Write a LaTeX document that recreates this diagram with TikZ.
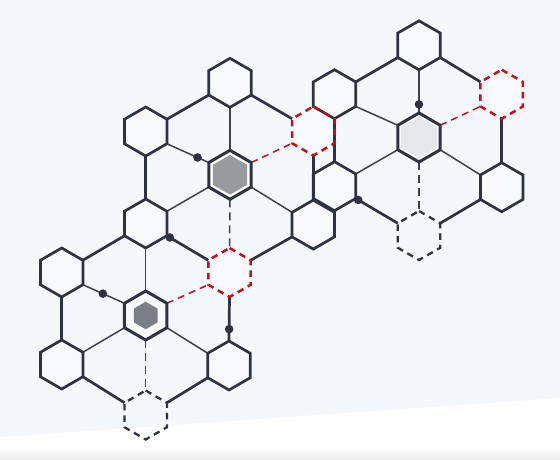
\documentclass[tikz,border=0pt]{standalone}
\usetikzlibrary{calc}
\definecolor{bgc}{HTML}{F4F7FB}
\definecolor{hexfill}{HTML}{F7F9FC}
\definecolor{dk}{HTML}{2D3340}
\definecolor{spk}{HTML}{3A404C}
\definecolor{rd}{HTML}{C0101A}
\definecolor{fone}{HTML}{979AA0}
\definecolor{ftwo}{HTML}{7A7F87}
\definecolor{fthree}{HTML}{E6E7EA}
\def\hR{24.5}\def\hW{21.22}\def\hH{12.25}
\newcommand\defhex[3]{%
  \coordinate (#1) at (#2,#3);
  \coordinate (#1-t) at ($(#1)+(0,-\hR)$);
  \coordinate (#1-ur) at ($(#1)+(\hW,-\hH)$);
  \coordinate (#1-lr) at ($(#1)+(\hW,\hH)$);
  \coordinate (#1-b) at ($(#1)+(0,\hR)$);
  \coordinate (#1-ll) at ($(#1)+(-\hW,\hH)$);
  \coordinate (#1-ul) at ($(#1)+(-\hW,-\hH)$);
}
\newcommand\hexshape[2]{\path[#2] (#1-t) -- (#1-ur) -- (#1-lr) -- (#1-b) -- (#1-ll) -- (#1-ul) -- cycle;}
\newcommand\innerhex[3]{\fill[#3] ($(#1)!#2!(#1-t)$) -- ($(#1)!#2!(#1-ur)$) -- ($(#1)!#2!(#1-lr)$) -- ($(#1)!#2!(#1-b)$) -- ($(#1)!#2!(#1-ll)$) -- ($(#1)!#2!(#1-ul)$) -- cycle;}
\tikzset{
  ring/.style={draw=dk,line width=2.7pt},
  spoke/.style={draw=spk,line width=1.5pt},
  dspoke/.style={draw=spk,line width=1.5pt,dash pattern=on 8pt off 5pt},
  rspoke/.style={draw=rd,line width=1.5pt,dash pattern=on 7pt off 5pt},
  hexsolid/.style={draw=dk,line width=2.7pt},
  hexred/.style={draw=rd,line width=2.5pt,dash pattern=on 6.5pt off 5pt},
  hexdash/.style={draw=dk,line width=2.3pt,dash pattern=on 6.5pt off 5pt},
  hexcenter/.style={draw=dk,line width=3pt,fill=white},
  dotn/.style={circle,fill=dk,inner sep=0pt,minimum size=8.6pt},
}
\begin{document}
\begin{tikzpicture}[x=1pt,y=-1pt]
\useasboundingbox (0,0) rectangle (560,459);
\fill[bgc] (0,0) rectangle (560,459);
\fill[white] (0,437) -- (560,398) -- (560,459) -- (0,459) -- cycle;
\shade[top color=white,bottom color=black!7] (0,447) rectangle (560,459);
% cluster 1
\defhex{c1c}{230}{174.8}
\defhex{c1t}{230}{82.8}
\defhex{c1ul}{145.7}{131.5}
\defhex{c1ur}{313.3}{131}
\defhex{c1ll}{145.7}{223.5}
\defhex{c1lr}{313.3}{224.6}
\defhex{c1b}{229.5}{272.5}
% cluster 2
\defhex{c2c}{145.7}{315.5}
\defhex{c2ul}{61.7}{272.5}
\defhex{c2ll}{61.7}{364.5}
\defhex{c2lr}{229}{365.5}
\defhex{c2b}{145.7}{415}
% cluster 3
\defhex{c3c}{419}{137.5}
\defhex{c3t}{419}{45.3}
\defhex{c3ul}{334.5}{94.2}
\defhex{c3ur}{501.7}{94.2}
\defhex{c3ll}{334.5}{186.2}
\defhex{c3lr}{501.7}{187.2}
\defhex{c3b}{419}{235.5}
% fills
\foreach \h in {c1t,c1ul,c1ll,c1lr,c2ul,c2ll,c2lr,c3t,c3ul,c3ll,c3lr,c1ur,c1b,c3ur}{\hexshape{\h}{fill=hexfill}}
% ring connectors
\draw[ring] (c1t-ll) -- (c1ul-ur);
\draw[ring] (c1t-lr) -- (c1ur-ul);
\draw[ring] (c1ul-b) -- (c1ll-t);
\draw[ring] (c1ur-b) -- (c1lr-t);
\draw[ring] (c1ll-lr) -- (c1b-ul);
\draw[ring] (c1lr-ll) -- (c1b-ur);
\draw[ring] (c1ll-ll) -- (c2ul-ur);
\draw[ring] (c2ul-b) -- (c2ll-t);
\draw[ring] (c1b-b) -- (c2lr-t);
\draw[ring] (c2ll-lr) -- (c2b-ul);
\draw[ring] (c2lr-ll) -- (c2b-ur);
\draw[ring] (c3t-ll) -- (c3ul-ur);
\draw[ring] (c3t-lr) -- (c3ur-ul);
\draw[ring] (c3ul-b) -- (c3ll-t);
\draw[ring] (c3ur-b) -- (c3lr-t);
\draw[ring] (c3ll-lr) -- (c3b-ul);
\draw[ring] (c3lr-ll) -- (c3b-ur);
% spokes cluster 1
\draw[spoke] (c1t-b) -- (c1c-t);
\draw[spoke] (c1ul-lr) -- (c1c-ul);
\draw[spoke] (c1ll-ur) -- (c1c-ll);
\draw[rspoke] (c1c-ur) -- (c1ur-ll);
\draw[spoke] (c1c-lr) -- (c1lr-ul);
\draw[dspoke] (c1c-b) -- (c1b-t);
% spokes cluster 2
\draw[spoke] (c1ll-b) -- (c2c-t);
\draw[spoke] (c2ul-lr) -- (c2c-ul);
\draw[spoke] (c2ll-ur) -- (c2c-ll);
\draw[rspoke] (c2c-ur) -- (c1b-ll);
\draw[spoke] (c2c-lr) -- (c2lr-ul);
\draw[dspoke] (c2c-b) -- (c2b-t);
% spokes cluster 3
\draw[spoke] (c3t-b) -- (c3c-t);
\draw[spoke] (c3ul-lr) -- (c3c-ul);
\draw[spoke] (c3ll-ur) -- (c3c-ll);
\draw[rspoke] (c3c-ur) -- (c3ur-ll);
\draw[spoke] (c3c-lr) -- (c3lr-ul);
\draw[dspoke] (c3c-b) -- (c3b-t);
% hex outlines
\foreach \h in {c1t,c1ul,c1ll,c1lr,c2ul,c2ll,c2lr,c3t,c3ul,c3ll,c3lr}{\hexshape{\h}{hexsolid}}
\foreach \h in {c1ur,c1b,c3ur}{\hexshape{\h}{hexred}}
\foreach \h in {c2b,c3b}{\hexshape{\h}{hexdash}}
% centre hexes
\hexshape{c1c}{hexcenter}\innerhex{c1c}{0.81}{fone}
\hexshape{c2c}{hexcenter,fill=hexfill}\innerhex{c2c}{0.56}{ftwo}
\hexshape{c3c}{hexcenter}\innerhex{c3c}{0.85}{fthree}
% dots
\node[dotn] (d1) at ($(c1ul-lr)!0.73!(c1c-ul)$) {};
\node[dotn] (d2) at ($(c1ll-lr)!0.07!(c1b-ul)$) {};
\node[dotn] (d3) at ($(c2ul-lr)!0.48!(c2c-ul)$) {};
\node[dotn] (d4) at ($(c1b-b)!0.73!(c2lr-t)$) {};
\node[dotn] (d5) at ($(c3t-b)!0.8!(c3c-t)$) {};
\node[dotn] (d6) at ($(c3ll-lr)!0.06!(c3b-ul)$) {};
\end{tikzpicture}
\end{document}
